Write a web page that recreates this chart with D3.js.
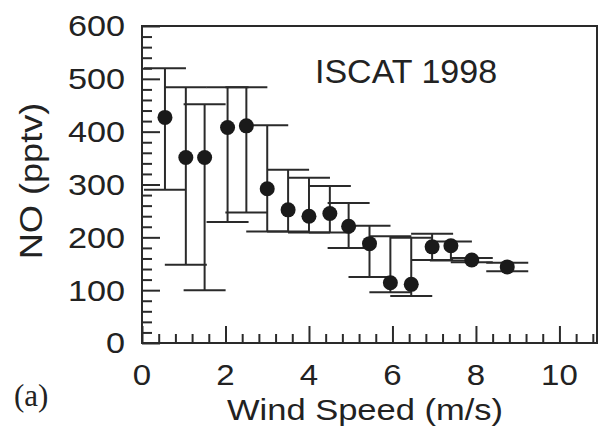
<!DOCTYPE html>
<html>
<head>
<meta charset="utf-8">
<title>NO vs wind speed</title>
<script src="https://d3js.org/d3.v7.min.js"></script>
<style>
  body { margin: 0; background: #fff; }
  text { font-family: "Liberation Sans", Arial, sans-serif; fill: #222; }
</style>
</head>
<body>
<svg width="604" height="431"></svg>
<script>
// data (wind speed bin, mean NO, upper / lower bar ends)
var windSpeed = [0.55, 1.05, 1.5, 2.05, 2.5, 3.0, 3.5, 4.0, 4.5, 4.95, 5.45, 5.95, 6.45, 6.95, 7.4, 7.9, 8.75];
var noMean    = [427, 351, 351, 408, 411, 292, 252, 240, 245, 221, 188, 114, 111, 182, 184, 157, 144];
var noUpper   = [520, 484, 452, 484, 484, 412, 328, 313, 297, 265, 222, 202, 199, 207, 192, 161, 152];
var noLower   = [290, 148, 100, 229, 247, 211, 211, 209, 209, 180, 125, 96, 89, 157, 156, 153, 136];

var xTicks = [0, 2, 4, 6, 8, 10];
var yTicks = [0, 100, 200, 300, 400, 500, 600];
var xLabel = "Wind Speed (m/s)";
var yLabel = "NO (pptv)";
var title = "ISCAT 1998";

var svg = d3.select("svg"),
    margin = { top: 26, right: 7, bottom: 88, left: 142 },
    width = +svg.attr("width") - margin.left - margin.right,
    height = +svg.attr("height") - margin.top - margin.bottom,
    g = svg.append("g").attr("transform", "translate(" + margin.left + "," + margin.top + ")");

var x = d3.scaleLinear().domain([0, 10.9]).range([0, width]);
var y = d3.scaleLinear().domain([0, 600]).range([height, 0]);

var ink = "#2a2a2a";

// minor + major ticks, drawn inward
var xMinor = d3.range(0, 10.81, 0.4).filter(function (v) { return Math.abs(v / 2 - Math.round(v / 2)) > 0.01; });
var yMinor = d3.range(0, 601, 20).filter(function (v) { return v % 100 !== 0; });

function tickAxis(axis, cls) {
  var a = g.append("g").attr("class", cls);
  return a;
}

g.append("g")
  .attr("transform", "translate(0," + height + ")")
  .call(d3.axisBottom(x).tickValues(xMinor).tickSize(-9).tickFormat(""))
  .call(function (s) { s.select(".domain").remove(); });
g.append("g")
  .attr("transform", "translate(0," + height + ")")
  .call(d3.axisBottom(x).tickValues(xTicks).tickSize(-17).tickFormat(""))
  .call(function (s) { s.select(".domain").remove(); });
g.append("g")
  .call(d3.axisLeft(y).tickValues(yMinor).tickSize(-10).tickFormat(""))
  .call(function (s) { s.select(".domain").remove(); });
g.append("g")
  .call(d3.axisLeft(y).tickValues(yTicks).tickSize(-18).tickFormat(""))
  .call(function (s) { s.select(".domain").remove(); });

g.selectAll(".tick line").attr("stroke", ink).attr("stroke-width", 2);

// frame
g.append("rect")
  .attr("x", 0).attr("y", 0)
  .attr("width", width).attr("height", height)
  .attr("fill", "none")
  .attr("stroke", ink)
  .attr("stroke-width", 2);

// tick labels
g.selectAll(".xlab")
  .data(xTicks)
  .enter().append("text")
  .attr("class", "xlab")
  .attr("transform", function (d) { return "translate(" + x(d) + "," + (height + 42) + ") scale(1.1,1)"; })
  .attr("text-anchor", "middle")
  .style("font-size", "30px")
  .text(function (d) { return d; });

g.selectAll(".ylab")
  .data(yTicks)
  .enter().append("text")
  .attr("class", "ylab")
  .attr("transform", function (d) { return "translate(-17," + y(d) + ") scale(1.18,1)"; })
  .attr("text-anchor", "end")
  .attr("dy", "0.36em")
  .style("font-size", "29px")
  .text(function (d) { return d; });

// axis titles
svg.append("text")
  .attr("transform", "translate(365,420) scale(1.15,1)")
  .attr("text-anchor", "middle")
  .style("font-size", "30px")
  .text(xLabel);

svg.append("text")
  .attr("transform", "translate(42,181) rotate(-90) scale(1.13,1)")
  .attr("text-anchor", "middle")
  .style("font-size", "32px")
  .text(yLabel);

svg.append("text")
  .attr("x", 315).attr("y", 83)
  .style("font-size", "34px")
  .text(title);

svg.append("text")
  .attr("x", 14).attr("y", 406)
  .style("font-family", "'Liberation Serif', 'Times New Roman', serif")
  .style("font-size", "31px")
  .text("(a)");

// error bars
var capW = 21;
var pts = windSpeed.map(function (v, i) {
  return { ws: v, mean: noMean[i], hi: noUpper[i], lo: noLower[i] };
});

var bars = g.selectAll(".bar").data(pts).enter().append("g").attr("class", "bar");
bars.append("line")
  .attr("x1", function (d) { return x(d.ws); })
  .attr("x2", function (d) { return x(d.ws); })
  .attr("y1", function (d) { return y(d.hi); })
  .attr("y2", function (d) { return y(d.lo); });
bars.append("line")
  .attr("x1", function (d) { return x(d.ws) - capW; })
  .attr("x2", function (d) { return x(d.ws) + capW; })
  .attr("y1", function (d) { return y(d.hi); })
  .attr("y2", function (d) { return y(d.hi); });
bars.append("line")
  .attr("x1", function (d) { return x(d.ws) - capW; })
  .attr("x2", function (d) { return x(d.ws) + capW; })
  .attr("y1", function (d) { return y(d.lo); })
  .attr("y2", function (d) { return y(d.lo); });
bars.selectAll("line").attr("stroke", ink).attr("stroke-width", 2);

g.selectAll(".dot")
  .data(pts)
  .enter().append("circle")
  .attr("class", "dot")
  .attr("cx", function (d) { return x(d.ws); })
  .attr("cy", function (d) { return y(d.mean); })
  .attr("r", 7.5)
  .attr("fill", "#1a1a1a");
</script>
</body>
</html>
